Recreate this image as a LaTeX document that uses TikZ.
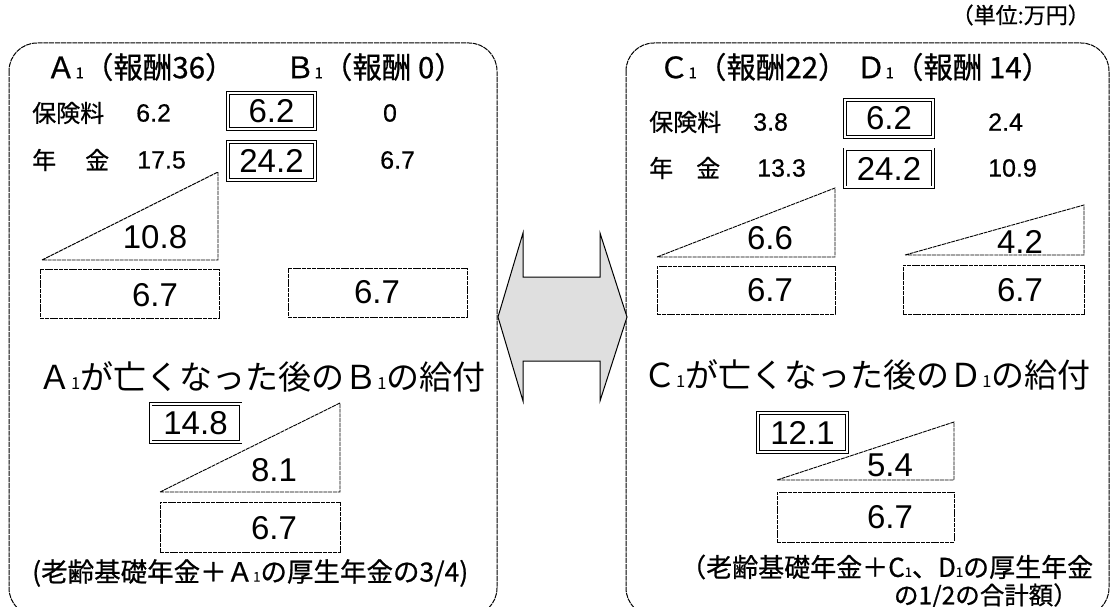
\documentclass[tikz,border=0pt]{standalone}
\usepackage{fontspec}
\setmainfont{Liberation Sans}
\newfontfamily\jp{Noto Sans CJK JP}
\newfontfamily\jpb{Noto Sans CJK JP}[FakeBold=0.7]
\newfontfamily\numb{Liberation Sans}[FakeBold=0.4]
\newcommand\sbo[1]{\scalebox{0.5}{#1}}
\begin{document}
\begin{tikzpicture}[x=1pt,y=-1pt,
  ln/.style={line width=0.9pt, dash pattern=on 4pt off 0.8pt},
  panel/.style={line width=1pt, dash pattern=on 5pt off 0.8pt, rounded corners=28pt},
  box/.style={ln, draw, rectangle, inner sep=0pt},
  dbox/.style={draw, double, double distance=2pt, line width=0.9pt, rectangle, inner sep=0pt},
  num/.style={inner sep=0pt, font=\fontsize{33}{33}\selectfont},
  bnum/.style={inner sep=0pt, font=\fontsize{33}{33}\selectfont},
  snum/.style={inner sep=0pt, anchor=west, font=\numb\fontsize{25}{25}\selectfont},
  lab/.style={inner sep=0pt, anchor=west, font=\jpb\fontsize{24}{24}\selectfont},
  head/.style={inner sep=0pt, anchor=west, font=\jpb\fontsize{29.5}{29.5}\selectfont},
  big/.style={inner sep=0pt, anchor=west, font=\jp\fontsize{33}{33}\selectfont},
  note/.style={inner sep=0pt, anchor=west, font=\jpb\fontsize{26.5}{26.5}\selectfont},
  arrowfill/.style={draw, line width=1pt, fill=gray!25},
]
\useasboundingbox (0,0) rectangle (1112,607);
\clip (0,0) rectangle (1112,607);

% unit
\node[inner sep=0pt, anchor=east, font=\jpb\fontsize{22}{22}\selectfont] (unit) at (1090,15) {（単位:万円）};

% panels
\draw[panel] (9,43) rectangle (497,616);
\draw[panel] (626,43) rectangle (1109,616);

% double arrow
\draw[arrowfill] (498,317) -- (523,233) -- (523,277) -- (600,277) -- (600,233)
  -- (627,317) -- (600,401) -- (600,361) -- (523,361) -- (523,401) -- cycle;

% ---------- left panel ----------
\node[head] (hA) at (46,67) {Ａ\sbo{1}（報酬36）};
\node[head] (hB) at (285,67) {Ｂ\sbo{1}（報酬 0）};

\node[lab] (lA1) at (32,113) {保険料};
\node[snum] (nA1) at (136,113) {6.2};
\node[dbox, minimum width=87pt, minimum height=36pt] (bA1) at (271.5,111) {};
\node[bnum] (tA1) at (bA1) {6.2};
\node[snum, anchor=center] (nB1) at (390,113) {0};

\node[lab] (lA2) at (32,160) {年\hspace{29pt}金};
\node[snum] (nA2) at (137,160) {17.5};
\node[dbox, minimum width=87pt, minimum height=38pt] (bA2) at (271.5,161) {};
\node[bnum] (tA2) at (bA2) {24.2};
\node[snum] (nB2) at (380,160) {6.7};

\draw[ln] (42,260) -- (218,172) -- (218,260) -- cycle;
\node[num] (tA3) at (155,237) {10.8};
\node[box, minimum width=179pt, minimum height=49pt] (bA4) at (129.5,293.5) {};
\node[num] (tA4) at (155,295) {6.7};
\node[box, minimum width=179pt, minimum height=49pt] (bB4) at (377.5,292.5) {};
\node[num] (tB4) at (377,292) {6.7};

\node[big] (sA) at (38,377) {Ａ\sbo{1}が亡くなった後のＢ\sbo{1}の給付};

\node[dbox, minimum width=90pt, minimum height=38pt] (bA5) at (195.5,423) {};
\node[bnum] (tA5) at (bA5) {14.8};
\draw[ln] (160,492) -- (340,403) -- (340,492) -- cycle;
\node[num] (tA6) at (274,470) {8.1};
\node[box, minimum width=180pt, minimum height=50pt] (bA7) at (250,527) {};
\node[num] (tA7) at (274,528) {6.7};

\node[note] (nA) at (32,573) {(老齢基礎年金＋Ａ\sbo{1}の厚生年金の3/4)};

% ---------- right panel ----------
\node[head] (hC) at (659,67) {Ｃ\sbo{1}（報酬22）};
\node[head] (hD) at (856,67) {Ｄ\sbo{1}（報酬 14）};

\node[lab] (lC1) at (649,122) {保険料};
\node[snum] (nC1) at (753,122) {3.8};
\node[dbox, minimum width=88pt, minimum height=37pt] (bC1) at (889,118.5) {};
\node[bnum] (tC1) at (bC1) {6.2};
\node[snum] (nD1) at (988,122) {2.4};

\node[lab] (lC2) at (649,168) {年\hspace{23pt}金};
\node[snum] (nC2) at (757,168) {13.3};
\node[dbox, minimum width=88pt, minimum height=38pt] (bC2) at (889,168.5) {};
\node[bnum] (tC2) at (bC2) {24.2};
\node[snum] (nD2) at (988,168) {10.9};

\draw[ln] (657,257) -- (835,188) -- (835,257) -- cycle;
\node[num] (tC3) at (770,238) {6.6};
\draw[ln] (905,255) -- (1084,205) -- (1084,255) -- cycle;
\node[num] (tD3) at (1020,242) {4.2};
\node[box, minimum width=178pt, minimum height=48pt] (bC4) at (746,290) {};
\node[num] (tC4) at (770,290) {6.7};
\node[box, minimum width=181pt, minimum height=49pt] (bD4) at (993.5,289.5) {};
\node[num] (tD4) at (1020,290) {6.7};

\node[big] (sC) at (643,375) {Ｃ\sbo{1}が亡くなった後のＤ\sbo{1}の給付};

\node[dbox, minimum width=89pt, minimum height=39pt] (bC5) at (802.5,432.5) {};
\node[bnum] (tC5) at (bC5) {12.1};
\draw[ln] (777,480) -- (954,422) -- (954,480) -- cycle;
\node[num] (tC6) at (890,465) {5.4};
\node[box, minimum width=177pt, minimum height=50pt] (bC7) at (865.5,517) {};
\node[num] (tC7) at (890,517) {6.7};

\node[note, font=\jpb\fontsize{26}{26}\selectfont] (nC1n) at (680,567) {（老齢基礎年金＋C\sbo{1}、D\sbo{1}の厚生年金};
\node[note, anchor=east, font=\jpb\fontsize{24.5}{24.5}\selectfont] (nC2n) at (1078,596) {の1/2の合計額）};
\end{tikzpicture}
\end{document}
